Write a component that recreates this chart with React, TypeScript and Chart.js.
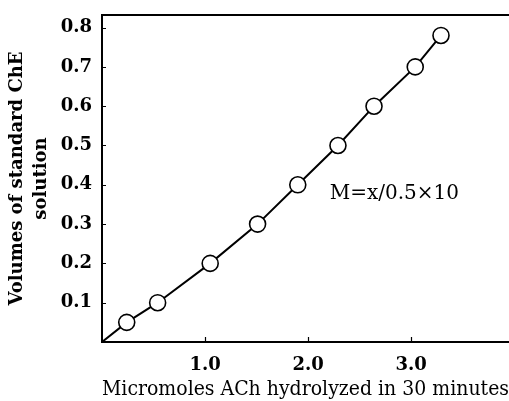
import React, { useEffect, useRef } from "react";
import { Chart, registerables } from "chart.js";

Chart.register(...registerables);

const xValues = [0, 0.24, 0.54, 1.05, 1.51, 1.9, 2.29, 2.64, 3.04, 3.29];
const yValues = [0, 0.05, 0.1, 0.2, 0.3, 0.4, 0.5, 0.6, 0.7, 0.78];
const xTicks = [1, 2, 3];
const yTicks = [0.1, 0.2, 0.3, 0.4, 0.5, 0.6, 0.7, 0.8];
const xTitle = "Micromoles ACh hydrolyzed in 30 minutes";
const yTitle = ["Volumes of standard ChE", "solution"];
const annotationText = "M=x/0.5×10";
const annotationAt = { x: 2.21, y: 0.377 };

const SERIF = "'DejaVu Serif', 'Liberation Serif', serif";

const framePlugin = {
  id: "frame",
  afterDraw(chart: any) {
    const { ctx, chartArea } = chart;
    const xs = chart.scales.x;
    const ys = chart.scales.y;
    ctx.save();
    ctx.strokeStyle = "#000";
    ctx.lineWidth = 2;
    ctx.beginPath();
    ctx.moveTo(chartArea.left - 1, chartArea.top);
    ctx.lineTo(chartArea.right, chartArea.top);
    ctx.stroke();
    ctx.lineWidth = 1.2;
    ctx.beginPath();
    for (const v of yTicks) {
      const py = Math.round(ys.getPixelForValue(v)) + 0.5;
      ctx.moveTo(chartArea.left, py);
      ctx.lineTo(chartArea.left + 4, py);
    }
    for (const v of xTicks) {
      const px = Math.round(xs.getPixelForValue(v)) + 0.5;
      ctx.moveTo(px, chartArea.bottom);
      ctx.lineTo(px, chartArea.bottom - 5);
    }
    ctx.stroke();
    ctx.fillStyle = "#000";
    ctx.font = `20px ${SERIF}`;
    ctx.textAlign = "left";
    ctx.textBaseline = "middle";
    ctx.fillText(
      annotationText,
      xs.getPixelForValue(annotationAt.x),
      ys.getPixelForValue(annotationAt.y)
    );
    ctx.restore();
  },
};

export default function App() {
  const ref = useRef<HTMLCanvasElement | null>(null);
  useEffect(() => {
    if (!ref.current) return;
    const points = xValues.map((x, i) => ({ x, y: yValues[i] }));
    const chart = new Chart(ref.current, {
      type: "scatter",
      data: {
        datasets: [
          {
            data: points,
            showLine: true,
            borderColor: "#000",
            borderWidth: 2,
            tension: 0,
            pointRadius: xValues.map((_, i) => (i === 0 ? 0 : 8)),
            pointBackgroundColor: "#fff",
            pointBorderColor: "#000",
            pointBorderWidth: 1.6,
          },
        ],
      },
      options: {
        responsive: false,
        animation: false,
        layout: { autoPadding: false, padding: { top: 15, left: 0, right: 0, bottom: 0 } },
        plugins: {
          legend: { display: false },
          tooltip: { enabled: false },
        },
        scales: {
          x: {
            type: "linear",
            min: 0,
            max: 3.95,
            afterBuildTicks: (s: any) => {
              s.ticks = xTicks.map((v) => ({ value: v }));
            },
            afterFit: (s: any) => {
              s.height = 59;
              s.paddingLeft = 0;
              s.paddingRight = 0;
            },
            grid: { display: true, drawOnChartArea: false, drawTicks: false },
            border: { display: true, color: "#000", width: 2 },
            ticks: {
              color: "#000",
              padding: 13,
              font: { family: SERIF, size: 18, weight: "bold" },
              callback: (v: any) => Number(v).toFixed(1),
            },
            title: {
              display: true,
              text: xTitle,
              color: "#000",
              font: { family: SERIF, size: 19.5, lineHeight: 1 },
              padding: { top: 0, bottom: 1 },
            },
          },
          y: {
            type: "linear",
            min: 0,
            max: 0.832,
            afterBuildTicks: (s: any) => {
              s.ticks = yTicks.map((v) => ({ value: v }));
            },
            afterFit: (s: any) => {
              s.width = 102;
              s.paddingTop = 0;
              s.paddingBottom = 0;
            },
            grid: { display: true, drawOnChartArea: false, drawTicks: false },
            border: { display: true, color: "#000", width: 2 },
            ticks: {
              color: "#000",
              padding: 10,
              font: { family: SERIF, size: 18, weight: "bold" },
              callback: (v: any) => Number(v).toFixed(1),
            },
            title: {
              display: true,
              text: yTitle,
              color: "#000",
              font: { family: SERIF, size: 18, weight: "bold", lineHeight: 1.35 },
              padding: { top: 5, bottom: 0 },
            },
          },
        },
      },
      plugins: [framePlugin],
    });
    return () => chart.destroy();
  }, []);
  return (
    <div style={{ position: "fixed", left: 0, top: 0, width: 509, height: 401, background: "#fff" }}>
      <canvas ref={ref} width={509} height={401} />
    </div>
  );
}
